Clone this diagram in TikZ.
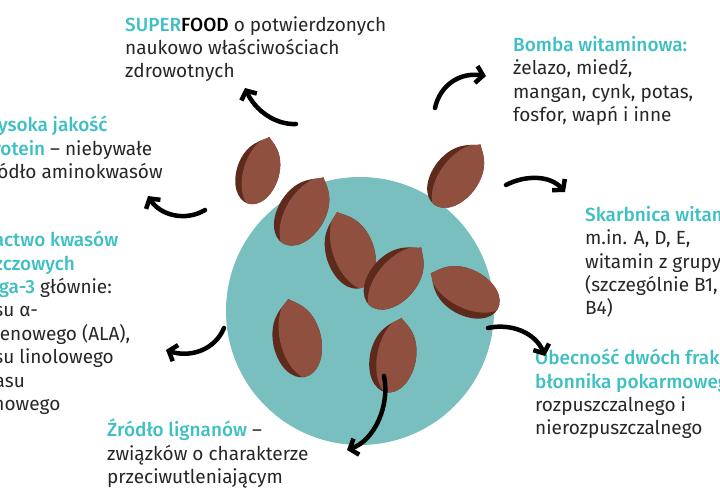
\documentclass[tikz,border=0pt]{standalone}
\usepackage{fontspec}
\setmainfont{Fira Sans}
\usetikzlibrary{arrows.meta}
\definecolor{teal}{HTML}{7ABFBF}
\definecolor{tealtxt}{HTML}{3DBFC4}
\definecolor{seedA}{HTML}{8F5040}
\definecolor{seedB}{HTML}{5E2A1C}
\tikzset{
 arr/.style={line width=4.5pt,line cap=round,-{Straight Barb[length=7pt,width=17pt,line width=4.5pt]}},
 txt/.style={anchor=north west,align=left,font=\fontsize{19}{23.4}\selectfont,inner sep=0pt,text=black!85},
}
\newcommand{\hl}[1]{\textcolor{tealtxt}{\fontspec{Fira Sans Medium}#1}}
\newcommand{\seedshape}{(0,-40) .. controls (3,-36) and (22,-30) .. (23,0) .. controls (23,22) and (12,36) .. (0,36) .. controls (-12,36) and (-23,22) .. (-23,0) .. controls (-22,-28) and (-5,-34) .. (0,-40) -- cycle}
\newcommand{\seed}[4]{% x,y,rot,scale
 \begin{scope}[shift={(#1,#2)},rotate=-#3,scale=#4]
  \fill[seedB] \seedshape;
  \begin{scope}\clip \seedshape;
   \fill[seedA] (9,-2) ellipse (25 and 42);
  \end{scope}
 \end{scope}}
\begin{document}
\begin{tikzpicture}[x=1pt,y=-1pt]
\useasboundingbox (0,0) rectangle (720,500);
\clip (0,0) rectangle (720,500);
\fill[teal] (360,311) circle (134);
\seed{258}{172}{18}{0.92}
\seed{302}{212}{32}{1.02}
\seed{350}{252}{-18}{1.05}
\seed{394}{278}{42}{1.02}
\seed{456}{176}{38}{1.0}
\seed{466}{292}{-62}{1.0}
\seed{297}{340}{-12}{1.05}
\seed{393}{357}{12}{1.0}
\node[txt] (t1) at (125,16) {\hl{SUPER}\textcolor{black}{\fontspec{Fira Sans Medium}FOOD} o potwierdzonych\\naukowo właściwościach\\zdrowotnych};
\node[txt] (t2) at (513,36) {\hl{Bomba witaminowa:}\\żelazo, miedź,\\mangan, cynk, potas,\\fosfor, wapń i inne};
\node[txt] (t3) at (-18,116) {\hl{Wysoka jakość}\\\hl{protein} – niebywałe\\źródło aminokwasów};
\node[txt] (t4) at (-39,231) {\hl{Bogactwo kwasów}\\\hl{tłuszczowych}\\\hl{omega-3} głównie:\\kwasu α-\\linolenowego (ALA),\\kwasu linolowego\\i kwasu\\oleinowego};
\node[txt] (t5) at (585,206) {\hl{Skarbnica witamin:}\\m.in. A, D, E,\\witamin z grupy B\\(szczególnie B1, B2,\\B4)};
\node[txt] (t6) at (535,349) {\hl{Obecność dwóch frakcji}\\\hl{błonnika pokarmowego:}\\rozpuszczalnego i\\nierozpuszczalnego};
\node[txt] (t7) at (107,419) {\hl{Źródło lignanów} –\\związków o charakterze\\przeciwutleniającym};
\coordinate (a1s) at (296,124); \coordinate (a1e) at (245,88);
\coordinate (a2s) at (435,108); \coordinate (a2e) at (486,76);
\coordinate (a3s) at (506,185); \coordinate (a3e) at (565,192);
\coordinate (a4s) at (488,328); \coordinate (a4e) at (545,356);
\coordinate (a5s) at (384,376); \coordinate (a5e) at (347,450);
\coordinate (a6s) at (224,328); \coordinate (a6e) at (166,350);
\coordinate (a7s) at (205,210); \coordinate (a7e) at (148,196);
\draw[arr] (a1s) .. controls (275,125) and (255,110) .. (a1e);
\draw[arr] (a2s) .. controls (440,85) and (460,72) .. (a2e);
\draw[arr] (a3s) .. controls (525,175) and (550,175) .. (a3e);
\draw[arr] (a4s) .. controls (510,323) and (535,332) .. (a4e);
\draw[arr] (a5s) .. controls (390,405) and (375,440) .. (a5e);
\draw[arr] (a6s) .. controls (215,350) and (190,358) .. (a6e);
\draw[arr] (a7s) .. controls (185,222) and (160,215) .. (a7e);
\end{tikzpicture}
\end{document}
